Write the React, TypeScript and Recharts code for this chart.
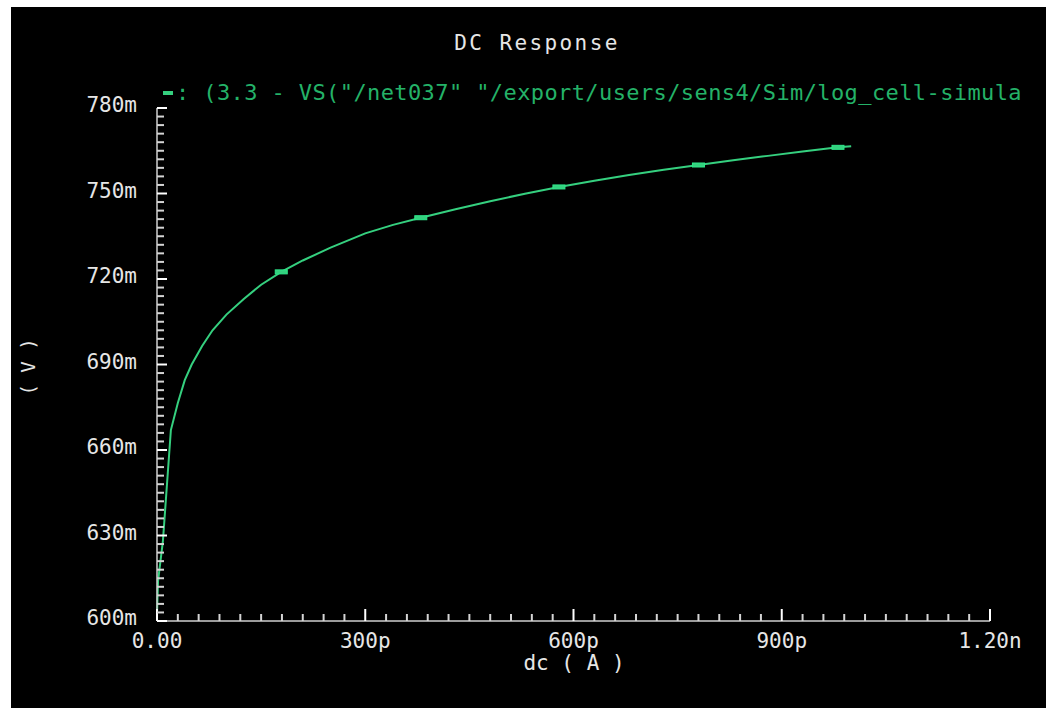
import {
  ComposedChart,
  Line,
  Scatter,
  XAxis,
  YAxis,
} from "recharts"

// sweep current (pA) and output voltage (mV)
const current = [0, 1.5, 8.5, 20, 30, 40, 50, 65, 80, 100, 125, 150, 179, 210, 250, 300, 340, 380, 430, 480, 530, 579, 630, 680, 730, 780, 830, 880, 930, 981, 1000]
const voltage = [602.5, 614, 628, 667, 676.5, 684.5, 690, 696.5, 702, 707.5, 713, 718, 722.5, 726.5, 731, 736, 739, 741.5, 744.5, 747.3, 749.9, 752.3, 754.5, 756.5, 758.3, 760, 761.7, 763.2, 764.7, 766.2, 766.6]

// marker symbols drawn on the trace
const markerCurrent = [179, 380, 579, 780, 981]
const markerVoltage = [722.5, 741.5, 752.3, 760, 766.2]

const xMajorTicks = [0, 300, 600, 900, 1200]
const xMajorLabels = ["0.00", "300p", "600p", "900p", "1.20n"]
const yMajorTicks = [600, 630, 660, 690, 720, 750, 780]
const yMajorLabels = ["600m", "630m", "660m", "690m", "720m", "750m", "780m"]

const xTicks = Array.from({ length: 41 }, (_, k) => k * 30)
const yTicks = Array.from({ length: 61 }, (_, k) => 600 + k * 3)

const curveData = current.map((c, i) => ({ i: c, v: voltage[i] }))
const markerData = markerCurrent.map((c, i) => ({ i: c, v: markerVoltage[i] }))

const FONT = "'DejaVu Sans Mono', monospace"
const TEXT = "#e6e6e6"
const GREEN = "#35d07f"
const LEGEND_GREEN = "#24b268"

const YTick = ({ x, y, payload }: any) => {
  const idx = yMajorTicks.indexOf(payload.value)
  const major = idx >= 0
  return (
    <g>
      <line x1={x} x2={x + (major ? 10 : 7)} y1={y} y2={y} stroke={major ? "#ffffff" : "#d4d4d4"} strokeWidth={2} />
      {major && (
        <text x={x - 20} y={y} dy={4} textAnchor="end" fill={TEXT} fontSize={21} fontFamily={FONT}>
          {yMajorLabels[idx]}
        </text>
      )}
    </g>
  )
}

const XTick = ({ x, y, payload }: any) => {
  const idx = xMajorTicks.indexOf(payload.value)
  const major = idx >= 0
  return (
    <g>
      <line x1={x} x2={x} y1={y} y2={y - (major ? 12 : 7)} stroke={major ? "#ffffff" : "#d4d4d4"} strokeWidth={2} />
      {major && (
        <text x={x} y={y} dy={27} textAnchor="middle" fill={TEXT} fontSize={21} fontFamily={FONT}>
          {xMajorLabels[idx]}
        </text>
      )}
    </g>
  )
}

const MarkerShape = ({ cx, cy }: any) => (
  <rect x={cx - 6} y={cy - 2} width={12} height={4} fill={GREEN} stroke="#2ee88a" strokeWidth={1} />
)

export default function App() {
  return (
    <div style={{ position: "absolute", left: 0, top: 0, width: 1046, height: 708, background: "#fff", overflow: "hidden" }}>
      <div style={{ position: "absolute", left: 11, top: 7, width: 1035, height: 701, background: "#000" }}>
        <ComposedChart width={1035} height={701} margin={{ top: 101, right: 56, left: 86, bottom: 47 }}>
          <XAxis
            type="number"
            dataKey="i"
            domain={[0, 1200]}
            ticks={xTicks}
            interval={0}
            height={40}
            tickSize={0}
            tickMargin={0}
            tickLine={false}
            tick={<XTick />}
            axisLine={{ stroke: "#cfcfcf", strokeWidth: 1.5 }}
          />
          <YAxis
            type="number"
            dataKey="v"
            domain={[600, 780]}
            ticks={yTicks}
            interval={0}
            width={60}
            tickSize={0}
            tickMargin={0}
            tickLine={false}
            tick={<YTick />}
            axisLine={{ stroke: "#cfcfcf", strokeWidth: 1.5 }}
          />
          <Line data={curveData} dataKey="v" type="linear" stroke={GREEN} strokeWidth={2} dot={false} isAnimationActive={false} />
          <Scatter data={markerData} dataKey="v" shape={<MarkerShape />} isAnimationActive={false} />
        </ComposedChart>

        <div style={{ position: "absolute", left: 526 - 150, width: 300, top: 24, textAlign: "center", color: TEXT, fontFamily: FONT, fontSize: 21, lineHeight: "24px", letterSpacing: 2.4 }}>
          DC Response
        </div>

        <div style={{ position: "absolute", left: 152, top: 73, display: "flex", alignItems: "center", whiteSpace: "nowrap", color: LEGEND_GREEN, fontFamily: FONT, fontSize: 22, lineHeight: "26px", letterSpacing: 0.4 }}>
          <span style={{ display: "inline-block", width: 10, height: 4, background: GREEN, marginRight: 3 }} />
          <span>: (3.3 - VS("/net037" "/export/users/sens4/Sim/log_cell-simula</span>
        </div>

        <div style={{ position: "absolute", left: 17 - 40, top: 360 - 12, width: 80, textAlign: "center", transform: "rotate(-90deg)", color: TEXT, fontFamily: FONT, fontSize: 19, lineHeight: "24px", whiteSpace: "pre" }}>
          ( V )
        </div>

        <div style={{ position: "absolute", left: 563 - 80, top: 644, width: 160, textAlign: "center", color: TEXT, fontFamily: FONT, fontSize: 21, lineHeight: "24px", whiteSpace: "pre" }}>
          dc ( A )
        </div>
      </div>
    </div>
  )
}
